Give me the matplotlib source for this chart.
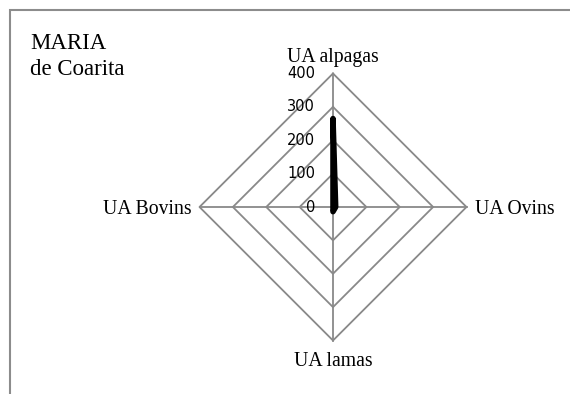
import numpy as np
from matplotlib import pyplot as plt
from matplotlib.patches import Rectangle

# donnees du graphique radar
categories = ['UA alpagas', 'UA Ovins', 'UA lamas', 'UA Bovins']
valeurs = [265, 8, 14, 0]
niveaux = [100, 200, 300, 400]
titre = ['MARIA', 'de Coarita']

gris = '#898989'
serif = 'Liberation Serif'

fig = plt.figure(figsize=(5.70, 3.94), dpi=100)
fig.patch.set_facecolor('white')

# cadre du graphique (haut et gauche visibles)
fig.patches.append(Rectangle((10/570, -0.5), 1.5, (394-10)/394 + 0.5,
                             transform=fig.transFigure, fill=False,
                             edgecolor='#8c8c8c', lw=1.5))

ax = fig.add_axes([199.5/570, 53.5/394, 267/570, 267/394], projection='polar')
ax.set_theta_zero_location('N')
ax.set_theta_direction(-1)
ax.set_ylim(0, 400)
ax.grid(False)
ax.set_xticks([])
ax.set_yticks([])
ax.spines['polar'].set_visible(False)
ax.patch.set_visible(False)

n = len(categories)
angles = np.arange(n) * 2*np.pi / n
ferme = np.concatenate([angles, angles[:1]])

# grille en losange
for niv in niveaux:
    ax.plot(ferme, [niv]*(n+1), color=gris, lw=1.3, clip_on=False, zorder=1)
for a in angles:
    ax.plot([a, a], [0, niveaux[-1]], color=gris, lw=1.3, clip_on=False, zorder=1)

# serie
v = np.array(valeurs + valeurs[:1], dtype=float)
ax.fill(ferme, v, color='black', lw=4, joinstyle='round', zorder=3, clip_on=False)

# etiquettes de graduation
for niv in [0] + niveaux:
    ax.annotate(str(niv), xy=(0, niv), xytext=(-13, 0), textcoords='offset points',
                ha='right', va='center', fontsize=10.5, family='DejaVu Sans', zorder=4)

# etiquettes des categories
decal = {'UA alpagas': (0, 8, 'center'),
         'UA Ovins': (6, -4.7, 'left'),
         'UA lamas': (0, -18, 'center'),
         'UA Bovins': (-6, -4.7, 'right')}
for a, cat in zip(angles, categories):
    dx, dy, ha = decal[cat]
    ax.annotate(cat, xy=(a, niveaux[-1]), xytext=(dx, dy), textcoords='offset points',
                ha=ha, va='baseline', fontsize=14.2, family=serif)

for i, ligne in enumerate(titre):
    fig.text(30/570, 1 - (49 + 26*i)/394, ligne, ha='left', va='baseline',
             fontsize=16.5, family=serif)

fig.savefig('out.png', dpi=100)
